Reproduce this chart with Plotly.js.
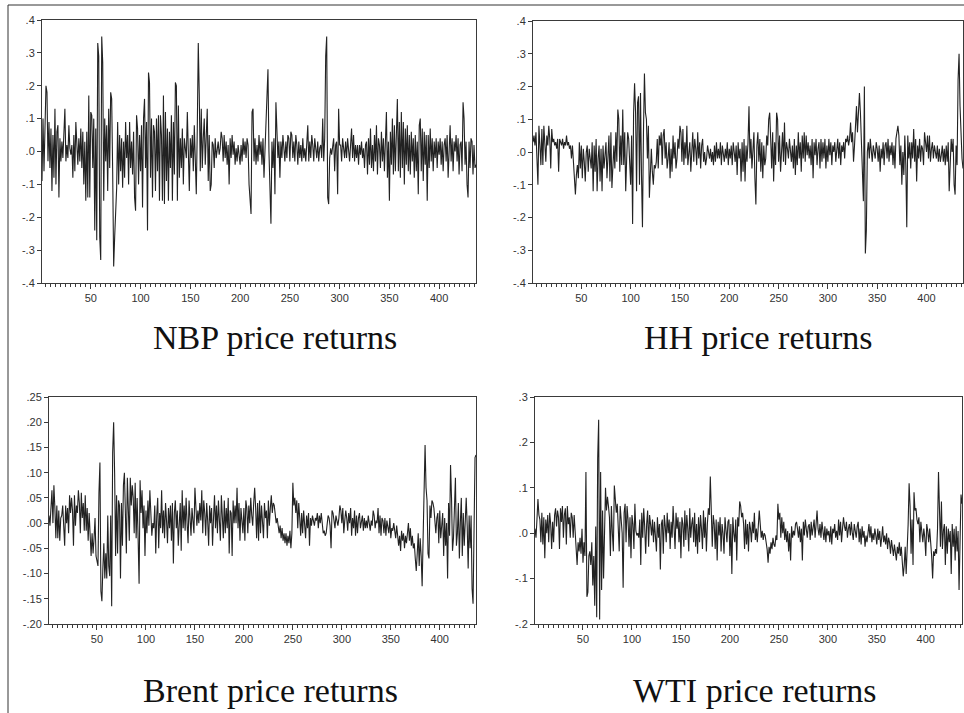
<!DOCTYPE html>
<html>
<head>
<meta charset="utf-8">
<script src="https://cdn.plot.ly/plotly-3.0.1.min.js"></script>
<style>html,body{margin:0;padding:0;background:#fff;}#chart{width:964px;height:713px;}</style>
</head>
<body>
<div id="chart"></div>
<script>
// ---- Data ----
const panelTitles = ["NBP price returns", "HH price returns", "Brent price returns", "WTI price returns"];

const xTickVals = [50, 100, 150, 200, 250, 300, 350, 400];
const xTickText = ["50", "100", "150", "200", "250", "300", "350", "400"];

const yTicksNBP = [-0.4, -0.3, -0.2, -0.1, 0, 0.1, 0.2, 0.3, 0.4];
const yTextNBP = ["-.4", "-.3", "-.2", "-.1", ".0", ".1", ".2", ".3", ".4"];
const yTicksHH = [-0.4, -0.3, -0.2, -0.1, 0, 0.1, 0.2, 0.3, 0.4];
const yTextHH = ["-.4", "-.3", "-.2", "-.1", ".0", ".1", ".2", ".3", ".4"];
const yTicksBrent = [-0.20, -0.15, -0.10, -0.05, 0, 0.05, 0.10, 0.15, 0.20, 0.25];
const yTextBrent = ["-.20", "-.15", "-.10", "-.05", ".00", ".05", ".10", ".15", ".20", ".25"];
const yTicksWTI = [-0.2, -0.1, 0, 0.1, 0.2, 0.3];
const yTextWTI = ["-.2", "-.1", ".0", ".1", ".2", ".3"];

const nbp = [-0.09,0.10,-0.06,0.08,0.20,0.18,-0.03,0.09,-0.05,0.07,
-0.12,0.05,-0.08,0.13,-0.10,0.06,0.08,-0.14,0.04,-0.03,
0.03,-0.02,0.04,0.13,-0.03,0.02,-0.02,0.08,0.01,-0.01,
0.02,-0.08,0.05,-0.06,0.09,0.02,-0.04,0.04,-0.03,0.07,
-0.05,0.06,-0.10,0.03,-0.15,0.06,-0.14,0.17,-0.14,0.12,
0.11,-0.05,0.10,-0.24,0.07,-0.27,0.33,0.29,-0.26,-0.33,
0.35,0.27,-0.15,0.10,-0.03,0.08,-0.12,0.13,-0.05,0.18,
0.16,-0.06,-0.35,-0.26,-0.15,-0.11,0.09,-0.10,0.05,-0.06,
0.04,-0.11,0.03,-0.08,0.09,-0.02,0.05,-0.10,0.09,-0.05,
0.03,-0.07,0.06,-0.14,-0.18,0.11,0.07,-0.10,0.05,-0.06,
0.08,-0.17,0.10,0.16,-0.05,0.09,-0.24,0.24,0.21,-0.08,
0.10,-0.14,0.08,0.06,-0.12,0.10,-0.06,0.11,-0.15,0.11,
0.05,-0.15,0.17,-0.16,0.12,-0.09,0.07,-0.15,0.06,-0.05,
0.11,-0.15,0.09,-0.07,0.21,0.20,-0.15,0.14,-0.08,0.04,
-0.05,0.07,-0.10,0.04,0.01,-0.02,0.12,-0.01,-0.12,0.04,
-0.02,0.05,-0.06,0.08,-0.04,-0.13,0.07,0.33,0.17,-0.06,
0.13,-0.05,0.04,0.10,-0.04,0.06,0.13,-0.09,0.05,-0.12,
-0.10,0.03,0.02,-0.05,0.04,-0.02,0.00,0.03,-0.01,0.01,
0.06,0.04,-0.03,0.05,-0.02,0.03,-0.04,0.02,-0.10,0.04,
-0.02,0.05,-0.01,0.03,-0.04,0.01,-0.03,0.02,-0.01,-0.04,
0.02,-0.03,0.04,-0.01,0.03,-0.02,0.04,0.02,-0.10,-0.15,
-0.19,0.12,0.13,-0.03,0.04,-0.04,0.02,-0.03,0.05,-0.01,
0.03,-0.04,0.04,-0.08,0.02,0.07,0.17,0.25,0.00,-0.10,
-0.22,0.03,-0.05,0.04,-0.13,0.15,0.03,-0.02,0.03,-0.08,
0.03,-0.02,0.05,-0.01,-0.03,0.03,-0.02,0.05,0.04,-0.03,
0.06,0.05,-0.02,0.03,-0.03,0.05,0.02,-0.04,0.03,-0.02,
0.02,-0.03,0.04,-0.02,0.01,-0.03,0.02,0.08,-0.03,0.03,
-0.02,0.05,0.02,-0.03,0.04,0.00,-0.02,0.03,-0.03,0.01,
0.02,-0.02,0.10,-0.03,0.04,0.29,0.35,-0.14,-0.16,-0.02,
0.01,-0.01,0.02,0.04,-0.06,0.02,0.03,-0.13,0.13,0.02,
0.02,-0.03,0.04,0.01,-0.02,0.03,-0.02,0.04,0.00,-0.03,
0.02,0.07,-0.02,0.05,-0.03,0.02,-0.02,0.02,-0.04,0.02,
-0.01,0.03,-0.02,0.01,-0.05,0.02,0.03,-0.07,0.04,-0.04,
0.07,-0.05,0.02,-0.06,0.05,-0.03,0.08,-0.07,0.04,0.02,
-0.05,0.06,-0.03,0.04,-0.06,0.02,0.12,-0.08,0.03,-0.15,
0.06,-0.04,0.10,-0.07,0.08,-0.06,0.09,0.16,-0.06,0.09,
-0.08,0.12,-0.05,0.09,-0.10,0.07,-0.04,0.08,-0.06,0.05,
-0.07,0.06,-0.03,0.04,-0.08,0.05,-0.06,0.03,-0.13,0.08,
0.10,-0.06,0.07,-0.09,0.06,-0.04,0.05,-0.15,0.05,-0.05,
0.07,-0.03,0.04,-0.06,0.03,-0.02,0.04,-0.05,0.03,-0.01,
0.04,-0.04,0.03,-0.06,0.02,0.04,-0.03,0.05,-0.08,0.02,
0.08,-0.03,0.04,-0.06,0.03,0.00,0.05,-0.03,0.04,-0.07,
0.02,0.03,-0.06,0.15,0.10,-0.04,0.03,-0.10,-0.14,0.03,
-0.05,0.04,0.03,-0.07,0.02,-0.05,-0.04];

const hh = [0.03,0.05,0.02,0.06,-0.02,-0.10,0.08,0.03,-0.04,0.07,
-0.04,0.08,0.01,-0.03,0.05,0.02,0.08,0.04,-0.05,0.07,
0.03,0.04,0.02,0.03,0.01,0.04,-0.06,0.04,0.03,0.02,
0.04,0.01,0.03,0.02,0.05,0.02,0.03,0.01,0.02,-0.02,
0.02,-0.03,-0.09,-0.13,-0.07,-0.04,-0.08,0.03,-0.05,0.02,
-0.08,0.01,-0.03,-0.09,0.00,0.02,-0.06,0.01,-0.02,-0.05,
0.03,-0.12,0.02,-0.06,0.04,-0.12,-0.02,0.02,-0.09,0.01,
-0.12,0.02,-0.05,-0.02,0.03,-0.08,-0.01,0.05,-0.09,0.06,
-0.11,-0.04,0.02,-0.05,0.06,-0.03,0.13,0.10,-0.06,0.05,
-0.04,0.13,-0.04,0.06,-0.12,-0.02,0.06,0.04,-0.05,-0.10,
0.05,-0.22,0.12,0.21,0.12,-0.12,0.15,0.17,-0.10,0.18,
-0.07,-0.23,0.06,0.24,0.12,0.10,-0.02,0.08,-0.14,-0.02,
0.01,-0.06,-0.10,-0.04,-0.05,-0.03,0.04,-0.05,0.05,0.02,
0.06,-0.04,0.05,0.07,-0.02,0.03,-0.05,-0.02,0.03,-0.08,
0.01,-0.06,0.05,-0.02,0.03,-0.05,-0.02,0.04,0.01,0.08,
0.06,-0.03,0.07,-0.04,0.03,-0.02,0.08,-0.04,0.01,0.03,
-0.06,0.02,0.06,-0.03,0.04,0.01,-0.04,0.06,-0.02,0.03,
-0.05,0.02,0.04,-0.03,0.00,-0.04,-0.02,0.02,-0.01,-0.02,
0.01,-0.03,0.00,-0.04,0.02,-0.03,0.03,-0.02,0.01,-0.02,
0.03,-0.04,0.02,0.00,-0.03,0.01,-0.02,0.03,-0.04,0.01,
-0.02,0.02,-0.04,0.03,-0.01,-0.03,0.02,-0.07,0.03,-0.02,
0.01,-0.09,0.03,-0.06,0.04,-0.09,0.02,-0.03,0.03,0.14,
-0.02,0.04,-0.05,0.02,0.06,-0.08,-0.16,0.02,0.06,-0.03,
0.04,-0.06,0.03,-0.08,0.02,-0.04,-0.02,0.05,0.02,0.10,
0.12,0.04,-0.05,0.06,-0.09,0.03,-0.04,0.12,0.10,-0.03,
0.05,-0.06,0.02,0.06,-0.03,0.09,-0.04,0.03,0.01,-0.02,
0.04,0.01,-0.03,0.02,-0.05,0.04,-0.07,0.02,-0.04,0.06,
-0.02,0.03,-0.06,0.05,-0.02,0.06,-0.03,0.05,-0.01,0.03,
-0.02,0.02,-0.04,0.04,-0.08,0.03,-0.01,0.04,-0.04,0.01,
0.03,-0.05,0.04,-0.03,0.03,-0.02,0.04,-0.05,0.02,-0.03,
0.04,-0.01,0.03,-0.04,0.02,0.00,0.03,-0.03,0.02,0.04,
-0.02,0.03,-0.04,0.02,0.00,0.03,-0.02,0.04,0.03,0.05,
0.02,0.04,0.09,0.03,0.06,-0.03,0.02,0.07,0.14,0.06,
0.15,0.18,0.12,0.04,-0.05,-0.15,0.20,-0.31,-0.24,0.00,
0.03,-0.02,0.04,0.01,-0.03,0.02,0.00,-0.02,0.03,0.01,
-0.03,0.02,-0.06,0.01,-0.02,0.03,-0.04,0.02,0.03,-0.02,
0.04,-0.03,0.02,-0.01,0.03,-0.04,0.02,-0.05,0.04,0.06,
0.08,0.05,-0.04,0.02,-0.10,0.00,-0.07,0.05,-0.04,-0.23,
0.05,-0.02,0.03,-0.05,0.03,-0.02,0.07,-0.03,0.04,-0.09,
0.02,-0.02,0.04,-0.03,0.02,0.01,-0.04,0.06,0.02,0.00,
0.05,-0.02,0.05,-0.03,0.01,0.03,-0.02,0.02,0.00,-0.02,
0.02,-0.03,0.01,-0.03,-0.01,0.02,-0.03,0.01,-0.04,0.02,
-0.03,0.03,-0.12,-0.05,0.04,0.00,0.04,-0.10,-0.13,0.02,
-0.04,0.22,0.30,0.14,0.02,-0.02,-0.05];

const brent = [0.015,-0.005,0.03,0.065,0.00,0.075,0.03,-0.03,0.035,-0.03,
0.025,-0.035,0.01,0.015,0.035,-0.01,-0.045,0.035,0.00,0.03,
-0.02,0.055,0.02,0.05,0.025,-0.045,0.055,-0.005,0.035,0.02,
0.065,0.04,-0.02,0.06,0.01,0.04,-0.015,0.055,-0.015,0.03,
-0.035,0.02,-0.045,-0.065,-0.02,-0.06,-0.03,0.01,-0.065,-0.08,
-0.085,0.06,0.12,-0.135,-0.155,-0.09,-0.04,-0.11,-0.06,-0.11,
0.015,-0.085,-0.105,0.015,-0.165,0.14,0.20,0.10,-0.065,0.055,
-0.06,0.045,0.035,-0.11,0.04,-0.045,0.075,0.10,0.025,-0.06,
0.09,0.025,-0.035,0.09,0.035,0.075,0.05,-0.02,0.08,-0.03,
0.05,-0.03,-0.12,0.085,0.02,0.065,-0.01,0.035,-0.065,0.025,
-0.02,0.045,-0.005,0.065,0.01,-0.025,0.00,-0.01,0.035,-0.06,
0.015,0.05,-0.05,0.02,-0.01,0.065,-0.02,0.025,-0.03,0.04,
0.005,-0.04,0.03,-0.01,0.035,-0.035,0.04,-0.08,0.02,0.045,
-0.01,0.025,-0.045,0.015,0.04,-0.055,0.065,-0.01,0.035,-0.015,
0.05,0.00,-0.04,0.045,0.015,-0.025,0.03,0.01,-0.02,0.07,
0.035,-0.005,0.025,0.00,0.04,0.005,0.065,-0.02,0.045,0.02,
-0.025,0.04,0.005,-0.045,0.035,0.00,0.03,-0.045,0.01,0.055,
-0.01,0.035,-0.02,0.045,0.005,-0.035,0.055,0.02,-0.03,0.045,
-0.02,0.03,-0.01,0.05,-0.06,0.025,0.02,-0.065,0.045,0.00,
0.035,0.00,0.07,-0.01,0.04,-0.035,0.03,0.005,-0.02,0.03,
-0.035,0.045,0.03,-0.02,0.035,0.00,0.05,0.015,-0.005,0.04,
0.07,0.03,-0.03,0.04,-0.035,0.045,-0.02,0.035,0.005,-0.03,
0.04,0.01,0.025,-0.03,0.045,-0.005,0.03,0.055,0.02,0.04,
0.035,0.02,0.00,0.01,-0.01,-0.02,-0.005,-0.03,-0.01,-0.035,
-0.02,-0.04,-0.02,-0.045,-0.025,-0.04,-0.015,-0.05,-0.02,0.08,
0.035,0.05,0.02,0.045,-0.01,0.04,0.01,-0.025,0.02,-0.02,
0.025,0.00,-0.03,0.015,-0.01,0.02,-0.045,0.01,-0.005,0.015,
0.00,-0.005,0.01,0.005,0.02,-0.01,0.015,0.00,0.02,-0.005,
-0.02,-0.015,-0.025,-0.02,0.005,0.015,0.01,-0.005,-0.05,0.025,
0.02,0.00,-0.01,0.015,0.005,-0.005,0.01,0.035,0.025,0.00,
0.03,-0.02,0.005,0.025,0.01,-0.015,0.02,0.00,0.03,-0.025,
0.01,-0.01,0.025,-0.025,0.015,-0.02,0.01,0.02,-0.01,0.005,
0.015,-0.015,0.01,-0.01,0.005,-0.01,0.015,0.00,-0.015,0.005,
-0.005,0.025,0.015,-0.01,0.005,0.00,0.03,-0.02,0.015,-0.025,
0.01,0.005,-0.02,0.01,-0.025,0.005,-0.015,-0.02,0.01,-0.03,
-0.01,-0.015,0.00,-0.02,-0.03,-0.005,-0.035,-0.045,-0.025,-0.055,
-0.015,-0.035,-0.02,-0.05,-0.025,-0.04,-0.02,0.00,-0.035,-0.01,
-0.045,-0.025,-0.05,-0.04,-0.07,-0.095,-0.06,-0.02,-0.085,-0.03,
-0.065,-0.125,-0.03,0.05,0.155,0.07,0.045,-0.06,-0.07,0.035,
0.01,0.045,0.04,0.03,0.005,-0.02,0.01,0.02,-0.04,0.025,
-0.03,0.005,0.02,-0.065,0.01,-0.045,0.00,-0.11,0.04,-0.025,
0.115,0.05,-0.055,-0.03,0.03,0.09,-0.045,-0.02,0.04,-0.07,
0.00,0.05,-0.065,0.02,-0.045,0.03,0.05,-0.005,-0.09,0.015,
-0.05,0.015,-0.13,-0.16,-0.02,0.13,0.135];

const wti = [0.01,-0.01,0.03,0.075,0.04,0.03,-0.02,0.045,-0.025,0.035,
-0.055,0.03,0.00,0.04,-0.02,0.045,0.02,-0.035,0.025,-0.02,
0.04,0.055,0.015,0.05,0.035,-0.035,0.055,0.025,0.06,-0.01,
0.04,0.055,-0.025,0.06,0.02,0.035,-0.01,0.045,0.035,-0.01,
0.04,-0.005,-0.045,-0.07,-0.02,-0.04,-0.01,-0.045,0.01,-0.065,
-0.02,-0.05,0.135,-0.14,-0.13,-0.05,-0.04,-0.07,-0.02,-0.115,
-0.05,-0.16,0.015,-0.185,0.165,0.25,-0.19,0.135,-0.125,0.05,
-0.1,0.06,0.10,0.05,0.08,0.06,0.035,-0.05,0.06,0.00,
-0.04,0.105,0.06,0.045,0.065,0.02,-0.04,0.06,0.03,0.00,
-0.12,0.045,0.065,-0.02,0.06,0.03,-0.03,0.035,-0.055,0.04,
0.02,-0.035,0.065,0.005,-0.005,0.00,-0.01,0.03,-0.07,0.045,
-0.01,0.055,0.015,-0.045,0.02,0.05,-0.03,0.04,0.02,-0.005,
0.03,-0.02,0.025,0.00,-0.04,0.035,-0.01,0.02,-0.08,0.02,
0.03,-0.045,0.04,0.015,-0.02,0.045,0.00,0.03,-0.035,0.025,
-0.01,0.06,0.00,-0.035,0.045,0.01,0.035,-0.02,0.025,-0.055,
0.035,0.02,-0.03,0.05,-0.015,0.04,0.01,-0.04,0.055,-0.01,
0.02,0.035,-0.02,0.045,-0.03,0.02,-0.045,0.035,-0.02,0.04,
0.01,-0.035,0.05,-0.01,0.035,-0.04,0.02,0.055,0.04,0.125,
0.05,-0.03,0.04,0.02,-0.035,0.03,-0.06,0.025,-0.005,0.035,
-0.04,0.02,0.00,-0.045,0.035,0.01,-0.02,0.025,0.03,-0.05,
0.02,-0.09,0.035,0.00,-0.02,0.03,-0.06,0.035,0.015,0.07,
0.06,0.035,0.045,0.02,-0.035,0.03,-0.025,0.02,-0.04,0.025,
0.01,-0.02,0.025,0.00,0.045,-0.015,0.01,-0.02,0.015,0.05,
0.02,-0.01,0.005,-0.015,0.00,-0.005,-0.02,-0.035,-0.065,-0.03,
-0.045,-0.02,-0.035,-0.01,-0.025,-0.03,-0.005,-0.015,0.065,0.03,
0.045,-0.01,0.035,0.00,0.025,-0.015,0.01,-0.02,0.005,-0.04,
0.00,-0.06,0.015,-0.01,0.005,-0.005,0.02,0.025,0.01,-0.01,
0.015,-0.02,0.01,-0.06,0.025,-0.005,0.03,0.00,-0.01,0.015,
0.02,-0.015,0.025,-0.005,0.01,0.03,-0.01,0.015,0.05,0.01,
-0.005,0.02,-0.01,0.025,0.00,-0.015,0.015,-0.02,0.01,-0.005,
0.005,-0.02,0.015,-0.025,0.01,0.00,0.02,-0.01,0.005,-0.015,
0.03,-0.005,0.025,-0.02,0.01,0.035,0.015,0.005,0.025,-0.01,
0.01,0.02,-0.005,0.025,0.00,-0.015,0.02,0.005,-0.01,0.015,
0.025,-0.02,0.01,-0.025,0.015,-0.01,0.005,-0.03,-0.005,-0.02,
0.00,0.02,-0.01,0.015,-0.02,0.00,-0.015,0.01,-0.005,-0.025,
0.01,-0.015,0.005,-0.03,-0.01,0.015,-0.02,-0.005,-0.025,0.00,
-0.035,-0.01,-0.02,-0.045,-0.015,-0.03,-0.05,-0.025,-0.04,-0.06,
-0.03,-0.045,-0.02,-0.05,-0.03,-0.06,-0.095,-0.07,-0.03,-0.09,
-0.045,0.02,0.11,0.06,-0.045,0.03,-0.07,0.09,0.05,0.055,
0.03,0.02,0.035,-0.02,0.025,0.00,-0.02,0.01,-0.01,-0.05,
0.02,0.005,-0.02,0.01,-0.015,-0.05,-0.1,-0.04,-0.05,-0.035,
-0.045,0.01,0.135,0.02,-0.03,0.07,-0.035,0.005,0.02,-0.07,
0.015,-0.045,0.01,-0.02,0.005,-0.09,0.02,-0.03,0.01,-0.06,
0.015,-0.04,0.005,-0.125,-0.03,0.085,0.065];

// ---- Layout helpers ----
const W = 964, H = 713;
const px = v => v / W;
const py = v => 1 - v / H;
const tickFont = {family: "Liberation Sans, Arial, sans-serif", size: 11, color: "#333"};
const titleFont = {family: "Liberation Serif, Times New Roman, serif", size: 34, color: "#111"};
const lineCol = "#3a3a3a";

function obsIndex(arr) { return arr.map((_, i) => i + 1); }

function xAxis(x0, x1, anchor) {
  return {
    domain: [px(x0), px(x1)], anchor: anchor,
    range: [1, 437], showgrid: false, zeroline: false,
    showline: true, mirror: true, linecolor: lineCol, linewidth: 1,
    ticks: "outside", ticklen: 5, tickwidth: 1, tickcolor: lineCol,
    tickmode: "array", tickvals: xTickVals, ticktext: xTickText,
    minor: {ticks: "outside", ticklen: 3, tickwidth: 1, tickcolor: lineCol, dtick: 5, tick0: 0, showgrid: false},
    tickfont: tickFont, fixedrange: true
  };
}
function yAxis(y0, y1, anchor, range, vals, text) {
  return {
    domain: [py(y1), py(y0)], anchor: anchor,
    range: range, showgrid: false, zeroline: false,
    showline: true, mirror: true, linecolor: lineCol, linewidth: 1,
    ticks: "outside", ticklen: 4, tickwidth: 1, tickcolor: lineCol,
    tickmode: "array", tickvals: vals, ticktext: text,
    tickfont: tickFont, fixedrange: true
  };
}

const seriesList = [nbp, hh, brent, wti];
const axNames = [["x", "y"], ["x2", "y2"], ["x3", "y3"], ["x4", "y4"]];
const traces = seriesList.map((s, i) => ({
  type: "scatter", mode: "lines",
  x: obsIndex(s), y: s,
  xaxis: axNames[i][0], yaxis: axNames[i][1],
  line: {color: "#222", width: 1.1},
  hoverinfo: "skip", showlegend: false
}));

const layout = {
  width: W, height: H,
  margin: {l: 0, r: 0, t: 0, b: 0, pad: 0},
  paper_bgcolor: "#fff", plot_bgcolor: "#fff",
  showlegend: false,
  xaxis: xAxis(42, 476, "y"),
  yaxis: yAxis(20, 283, "x", [-0.4, 0.4], yTicksNBP, yTextNBP),
  xaxis2: xAxis(533, 963, "y2"),
  yaxis2: yAxis(21, 283, "x2", [-0.4, 0.4], yTicksHH, yTextHH),
  xaxis3: xAxis(49, 476, "y3"),
  yaxis3: yAxis(397, 624, "x3", [-0.20, 0.25], yTicksBrent, yTextBrent),
  xaxis4: xAxis(535, 962, "y4"),
  yaxis4: yAxis(397, 624, "x4", [-0.2, 0.3], yTicksWTI, yTextWTI),
  annotations: [
    {text: panelTitles[0], x: px(275), y: py(337), xref: "paper", yref: "paper", showarrow: false, font: titleFont, xanchor: "center", yanchor: "middle"},
    {text: panelTitles[1], x: px(758), y: py(337), xref: "paper", yref: "paper", showarrow: false, font: titleFont, xanchor: "center", yanchor: "middle"},
    {text: panelTitles[2], x: px(270), y: py(690), xref: "paper", yref: "paper", showarrow: false, font: titleFont, xanchor: "center", yanchor: "middle"},
    {text: panelTitles[3], x: px(755), y: py(690), xref: "paper", yref: "paper", showarrow: false, font: titleFont, xanchor: "center", yanchor: "middle"}
  ],
  shapes: [
    {type: "line", xref: "paper", yref: "paper", x0: px(8), x1: 1, y0: py(5), y1: py(5), line: {color: "#333", width: 1}},
    {type: "line", xref: "paper", yref: "paper", x0: px(8), x1: px(8), y0: py(5), y1: 0, line: {color: "#333", width: 1}}
  ]
};

Plotly.newPlot("chart", traces, layout, {staticPlot: true, displayModeBar: false});
</script>
</body>
</html>
